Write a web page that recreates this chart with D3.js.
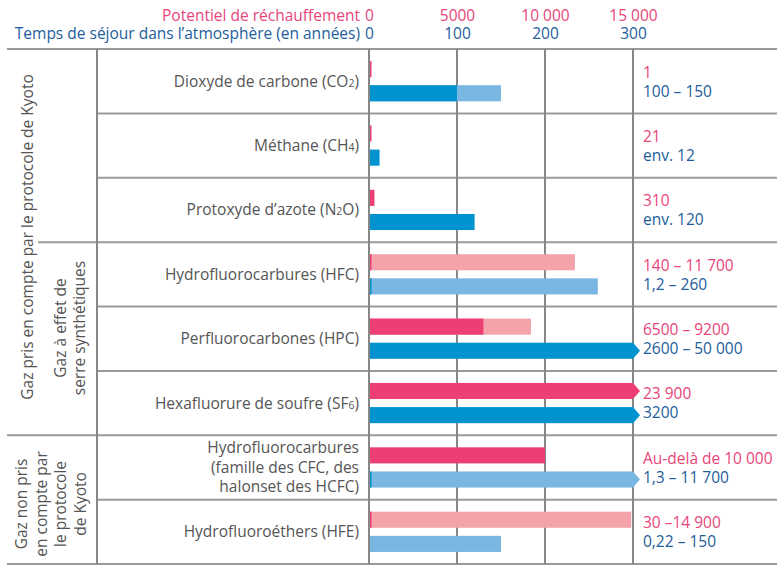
<!DOCTYPE html>
<html>
<head>
<meta charset="utf-8">
<script src="https://cdn.jsdelivr.net/npm/d3@7"></script>
<style>
  body { margin: 0; background: #fff; }
  text { font-family: "Open Sans", "Noto Sans", sans-serif; }
</style>
</head>
<body>
<script>
// data
var gases = [
  ["Dioxyde de carbone (CO", "2", ")"],
  ["Méthane (CH", "4", ")"],
  ["Protoxyde d\u2019azote (N", "2", "O)"],
  ["Hydrofluorocarbures (HFC)"],
  ["Perfluorocarbones (HPC)"],
  ["Hexafluorure de soufre (SF", "6", ")"],
  ["Hydrofluorocarbures", "(famille des CFC, des", "halonset des HCFC)"],
  ["Hydrofluoroéthers (HFE)"]
];
var multiline = [false, false, false, false, false, false, true, false];
var gwpLow  = [1, 21, 310, 140, 6500, 23900, 10000, 30];
var gwpHigh = [null, null, null, 11700, 9200, null, null, 14900];
var lifeLow  = [100, 12, 120, 1.2, 2600, 3200, 1.3, 0.22];
var lifeHigh = [150, null, null, 260, 50000, null, 11700, 150];
var gwpLabels  = ["1", "21", "310", "140 \u2013 11 700", "6500 \u2013 9200", "23 900", "Au-delà de 10 000", "30 \u201314 900"];
var lifeLabels = ["100 \u2013 150", "env. 12", "env. 120", "1,2 \u2013 260", "2600 \u2013 50 000", "3200", "1,3 \u2013 11 700", "0,22 \u2013 150"];
var gwpTicks  = [0, 5000, 10000, 15000];
var lifeTicks = [0, 100, 200, 300];

var pink = "#ee3f74", pinkLight = "#f4a3aa", blue = "#0093d0", blueLight = "#7ab6e2";
var pinkText = "#e8457a", blueText = "#1d5d9c", grey = "#555", lineCol = "#9a9a9a";
var fs = 15.5;

var width = 777, height = 574;
var svg = d3.select("body").append("svg")
    .attr("width", width)
    .attr("height", height);

// scales
var xGwp = d3.scaleLinear().domain([0, 15000]).range([369, 633]);
var xLife = d3.scaleLinear().domain([0, 300]).range([369, 633]);
var row = d3.scaleBand().domain(d3.range(gases.length)).range([49, 564]);
var inner = d3.scaleBand().domain(["gwp", "life"]).range([0, row.bandwidth()])
    .paddingInner(1 / 3).paddingOuter(0.5);

var fmt = function(d) { return d >= 10000 ? d3.format(",")(d).replace(",", " ") : d; };

// header axes
var gAx = svg.append("g").attr("transform", "translate(0,21)")
    .call(d3.axisTop(xGwp).tickValues(gwpTicks).tickSize(0).tickPadding(0).tickFormat(fmt));
var lAx = svg.append("g").attr("transform", "translate(0,39)")
    .call(d3.axisTop(xLife).tickValues(lifeTicks).tickSize(0).tickPadding(0));
[gAx, lAx].forEach(function(g, i) {
  g.select(".domain").remove();
  g.attr("font-family", null).attr("font-size", fs);
  g.selectAll("text").attr("fill", i ? blueText : pinkText);
});
svg.append("text").attr("x", 360).attr("y", 21).attr("text-anchor", "end")
    .attr("font-size", fs).attr("fill", pinkText).text("Potentiel de réchauffement");
svg.append("text").attr("x", 360).attr("y", 39).attr("text-anchor", "end")
    .attr("font-size", fs).attr("fill", blueText).text("Temps de séjour dans l\u2019atmosphère (en années)");

// grid lines
var yTop = row.range()[0], yBottom = row.range()[1];
svg.selectAll(".hline")
    .data(d3.range(gases.length + 1))
  .enter().append("line")
    .attr("x1", function(i) { return (i == 0 || i == 6 || i == 8) ? 7 : (i == 3 ? 38 : 97); })
    .attr("x2", width)
    .attr("y1", function(i) { return yTop + i * row.step(); })
    .attr("y2", function(i) { return yTop + i * row.step(); })
    .attr("stroke", lineCol).attr("stroke-width", 2);

svg.selectAll(".vline")
    .data([97].concat(lifeTicks.map(xLife)))
  .enter().append("line")
    .attr("x1", function(d) { return d; }).attr("x2", function(d) { return d; })
    .attr("y1", yTop).attr("y2", yBottom)
    .attr("stroke", "#878787").attr("stroke-width", 2);

// gas names
gases.forEach(function(g, i) {
  var cy = row(i) + row.bandwidth() / 2;
  if (multiline[i]) {
    g.forEach(function(line, k) {
      svg.append("text").attr("x", 359).attr("y", cy + (k - 1) * 19.5 + 5.5)
          .attr("text-anchor", "end").attr("font-size", fs).attr("fill", grey).text(line);
    });
  } else {
    var t = svg.append("text").attr("x", 359).attr("y", cy + 5.5)
        .attr("text-anchor", "end").attr("font-size", fs).attr("fill", grey);
    t.append("tspan").text(g[0]);
    if (g.length > 1) {
      t.append("tspan").attr("font-size", 10.5).text(g[1]);
      t.append("tspan").text(g[2]);
    }
  }
});

// bars
function drawBar(i, key, scale, low, high, dark, light) {
  var y = row(i) + inner(key), h = inner.bandwidth();
  var x0 = scale(0) + 1, max = scale.domain()[1];
  var lowEnd = scale(Math.min(low, max));
  var w = Math.max(lowEnd - x0, low >= 1 ? 1.5 : 0);
  if (high != null && low < max) {
    svg.append("rect").attr("x", x0).attr("y", y)
        .attr("width", scale(Math.min(high, max)) - x0).attr("height", h).attr("fill", light);
  }
  svg.append("rect").attr("x", x0).attr("y", y).attr("width", w).attr("height", h).attr("fill", dark);
  var over = low > max ? dark : (high != null && high > max ? light : null);
  if (over) {
    var xe = scale(max);
    svg.append("path")
        .attr("d", "M" + (xe - 1) + "," + y + "L" + xe + "," + y + "L" + (xe + 7) + "," + (y + h / 2) +
                   "L" + xe + "," + (y + h) + "L" + (xe - 1) + "," + (y + h) + "Z")
        .attr("fill", over);
  }
}
gases.forEach(function(g, i) {
  drawBar(i, "gwp", xGwp, gwpLow[i], gwpHigh[i], pink, pinkLight);
  drawBar(i, "life", xLife, lifeLow[i], lifeHigh[i], blue, blueLight);
});

// value labels
svg.selectAll(".gl").data(gwpLabels).enter().append("text")
    .attr("x", 643).attr("y", function(d, i) { return row(i) + 28.5; })
    .attr("font-size", fs).attr("fill", pinkText).text(function(d) { return d; });
svg.selectAll(".ll").data(lifeLabels).enter().append("text")
    .attr("x", 643).attr("y", function(d, i) { return row(i) + 47.5; })
    .attr("font-size", fs).attr("fill", blueText).text(function(d) { return d; });

// group labels (rotated)
function vlabel(lines, cx, cy) {
  var t = svg.append("text").attr("transform", "translate(" + cx + "," + cy + ") rotate(-90)")
      .attr("text-anchor", "middle").attr("font-size", fs).attr("fill", grey);
  lines.forEach(function(l, k) {
    t.append("tspan").attr("x", 0)
        .attr("y", (k - (lines.length - 1) / 2) * 19.5 + 5.5).text(l);
  });
}
vlabel(["Gaz pris en compte par le protocole de Kyoto"], 27, 237);
vlabel(["Gaz à effet de", "serre synthétiques"], 70, 328);
vlabel(["Gaz non pris", "en compte par", "le protocole", "de Kyoto"], 51, 504);
</script>
</body>
</html>
